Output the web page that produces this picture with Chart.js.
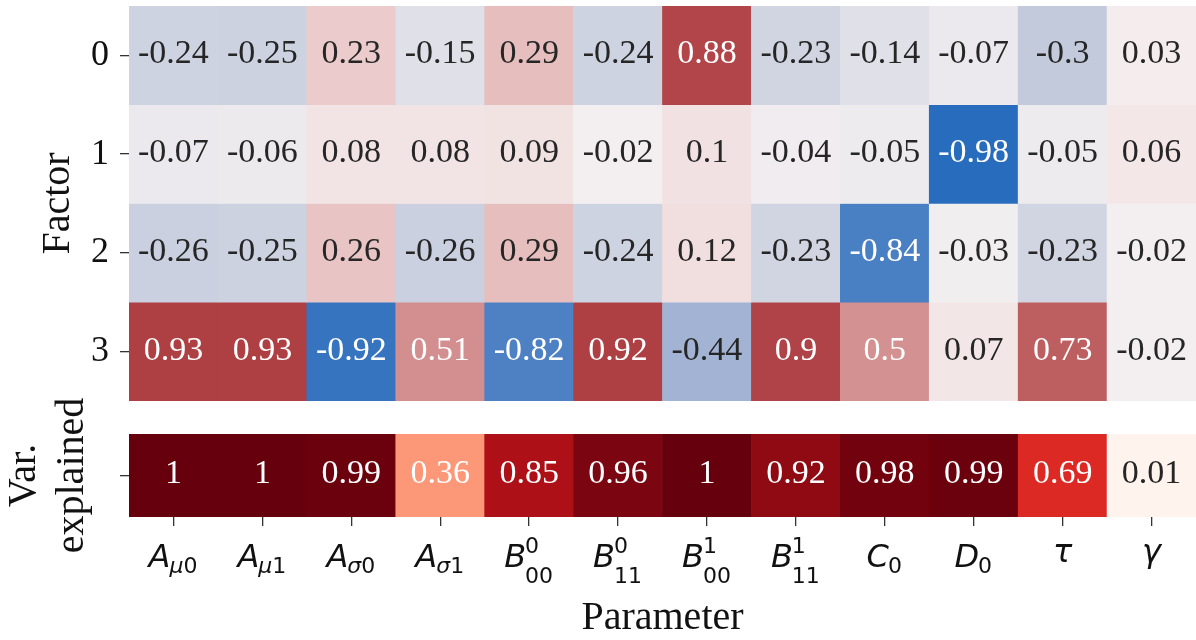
<!DOCTYPE html>
<html lang="en">
<head>
<meta charset="UTF-8">
<title>Factor loadings</title>
<script src="https://cdn.jsdelivr.net/npm/chart.js"></script>
<style>
  body { margin: 0; background: #fff; }
  #wrap { position: relative; width: 1196px; height: 640px; }
  .box { position: absolute; left: 0; width: 1196px; }
  #topBox { top: 0; height: 405px; }
  #botBox { top: 380px; height: 260px; }
</style>
</head>
<body>
<div id="wrap">
  <div class="box" id="topBox"><canvas id="factorChart"></canvas></div>
  <div class="box" id="botBox"><canvas id="varChart"></canvas></div>
</div>

<script>
// parameters (x categories), drawn as base + subscript + superscript
const params = ['A_mu0', 'A_mu1', 'A_sigma0', 'A_sigma1', 'B00^0', 'B11^0', 'B00^1', 'B11^1', 'C0', 'D0', 'tau', 'gamma'];
const paramBase = ['A', 'A', 'A', 'A', 'B', 'B', 'B', 'B', 'C', 'D', 'τ', 'γ'];
const paramSub = ['μ0', 'μ1', 'σ0', 'σ1', '00', '11', '00', '11', '0', '0', '', ''];
const paramSup = ['', '', '', '', '0', '0', '1', '1', '', '', '', ''];

const factorRows = ['0', '1', '2', '3'];
const factor0 = [-0.24, -0.25, 0.23, -0.15, 0.29, -0.24, 0.88, -0.23, -0.14, -0.07, -0.3, 0.03];
const factor1 = [-0.07, -0.06, 0.08, 0.08, 0.09, -0.02, 0.1, -0.04, -0.05, -0.98, -0.05, 0.06];
const factor2 = [-0.26, -0.25, 0.26, -0.26, 0.29, -0.24, 0.12, -0.23, -0.84, -0.03, -0.23, -0.02];
const factor3 = [0.93, 0.93, -0.92, 0.51, -0.82, 0.92, -0.44, 0.9, 0.5, 0.07, 0.73, -0.02];
const varExplained = [1, 1, 0.99, 0.36, 0.85, 0.96, 1, 0.92, 0.98, 0.99, 0.69, 0.01];

const factors = [factor0, factor1, factor2, factor3];

const SERIF = "'Liberation Serif', 'Times New Roman', serif";
const MATH = "'DejaVu Sans', sans-serif";

// colormaps: vlag-like (-1..1) and matplotlib Reds (0..1)
const vlagStops = [
  [-1.0, [35, 105, 189]], [-0.8, [82, 132, 196]], [-0.6, [126, 156, 205]],
  [-0.4, [172, 185, 212]], [-0.2, [215, 218, 228]], [0.0, [246, 241, 242]],
  [0.2, [237, 209, 209]], [0.4, [221, 166, 166]], [0.6, [203, 123, 124]],
  [0.8, [182, 78, 82]], [1.0, [169, 55, 59]]
];
const redsStops = [
  [0, [255, 245, 240]], [0.125, [254, 224, 210]], [0.25, [252, 187, 161]],
  [0.375, [252, 146, 114]], [0.5, [251, 106, 74]], [0.625, [239, 59, 44]],
  [0.75, [203, 24, 29]], [0.875, [165, 15, 21]], [1, [103, 0, 13]]
];

function lerpColor(stops, v) {
  if (v <= stops[0][0]) return stops[0][1];
  for (let i = 1; i < stops.length; i++) {
    if (v <= stops[i][0]) {
      const [a, ca] = stops[i - 1], [b, cb] = stops[i];
      const t = (v - a) / (b - a);
      return ca.map((c, k) => Math.round(c + (cb[k] - c) * t));
    }
  }
  return stops[stops.length - 1][1];
}

function luminance(rgb) {
  const lin = rgb.map(c => {
    c /= 255;
    return c <= 0.03928 ? c / 12.92 : Math.pow((c + 0.055) / 1.055, 2.4);
  });
  return 0.2126 * lin[0] + 0.7152 * lin[1] + 0.0722 * lin[2];
}

const rgbStr = c => `rgb(${c[0]},${c[1]},${c[2]})`;

// writes the value in the middle of every cell
function annotatePlugin(stops, threshold) {
  return {
    id: 'annotate',
    afterDatasetsDraw(chart) {
      const ctx = chart.ctx;
      ctx.save();
      ctx.font = `34px ${SERIF}`;
      ctx.textAlign = 'center';
      ctx.textBaseline = 'middle';
      chart.data.datasets.forEach((ds, di) => {
        const meta = chart.getDatasetMeta(di);
        meta.data.forEach((el, i) => {
          const v = ds.values[i];
          const lum = luminance(lerpColor(stops, v));
          ctx.fillStyle = lum > threshold ? '#262626' : '#ffffff';
          ctx.fillText(String(v), el.x, (el.y + el.base) / 2 - 1);
        });
      });
      ctx.restore();
    }
  };
}

// x tick labels with sub/superscripts, like mathtext
const mathLabels = {
  id: 'mathLabels',
  afterDraw(chart) {
    const ctx = chart.ctx;
    const xs = chart.scales.x;
    const baseY = xs.top + 50;
    ctx.save();
    ctx.fillStyle = '#111';
    ctx.textBaseline = 'alphabetic';
    ctx.textAlign = 'left';
    params.forEach((p, i) => {
      const cx = xs.getPixelForTick(i);
      const base = paramBase[i], sub = paramSub[i], sup = paramSup[i];
      const bigFont = `italic 32px ${MATH}`;
      const small = ch => (/[0-9]/.test(ch) ? '' : 'italic ') + `22px ${MATH}`;
      ctx.font = bigFont;
      const wb = ctx.measureText(base).width;
      const widthOf = s => [...s].reduce((w, ch) => { ctx.font = small(ch); return w + ctx.measureText(ch).width; }, 0);
      const ws = widthOf(sub), wp = widthOf(sup);
      const total = wb + Math.max(ws, wp);
      let x = cx - total / 2;
      let y = baseY;
      if (!sub && !sup) y -= 5;
      ctx.font = bigFont;
      ctx.fillText(base, x, y);
      x += wb - 1;
      const drawSmall = (s, yy) => {
        let xx = x;
        [...s].forEach(ch => {
          ctx.font = small(ch);
          ctx.fillText(ch, xx, yy);
          xx += ctx.measureText(ch).width;
        });
      };
      if (sup) drawSmall(sup, y - 14);
      if (sub) drawSmall(sub, y + (sup ? 16 : 6));
    });
    ctx.restore();
  }
};

const tickGrid = { offset: false, drawOnChartArea: false, drawTicks: true, tickLength: 9, color: '#333', lineWidth: 1.3 };

function fixWidth(s) {
  s.width = 129;
  s.paddingTop = 0;
  s.paddingBottom = 0;
}

// factor loadings heatmap
new Chart(document.getElementById('factorChart'), {
  type: 'bar',
  data: {
    labels: params,
    datasets: factors.map((row, r) => ({
      label: 'Factor ' + factorRows[r],
      values: row,
      data: row.map(() => [r - 0.5, r + 0.5]),
      backgroundColor: row.map(v => rgbStr(lerpColor(vlagStops, v))),
      borderWidth: 0,
      borderSkipped: false,
      grouped: false,
      barPercentage: 1,
      categoryPercentage: 1
    }))
  },
  options: {
    responsive: true,
    maintainAspectRatio: false,
    animation: false,
    events: [],
    layout: { padding: { top: 6, right: 0, bottom: 4, left: 0 } },
    plugins: { legend: { display: false }, tooltip: { enabled: false } },
    scales: {
      x: { type: 'category', display: false },
      y: {
        type: 'linear',
        reverse: true,
        min: -0.5,
        max: 3.5,
        afterBuildTicks: s => { s.ticks = factorRows.map((_, i) => ({ value: i })); },
        afterFit: fixWidth,
        ticks: {
          font: { family: SERIF, size: 36 },
          color: '#111',
          padding: 11,
          callback: v => factorRows[v]
        },
        grid: tickGrid,
        border: { display: false },
        title: {
          display: true,
          text: 'Factor',
          color: '#111',
          font: { family: SERIF, size: 40, lineHeight: 1.2 },
          padding: { top: 34, bottom: 0 }
        }
      }
    }
  },
  plugins: [annotatePlugin(vlagStops, 0.408)]
});

// variance explained row
new Chart(document.getElementById('varChart'), {
  type: 'bar',
  data: {
    labels: params,
    datasets: [{
      label: 'Var. explained',
      values: varExplained,
      data: varExplained.map(() => [-0.5, 0.5]),
      backgroundColor: varExplained.map(v => rgbStr(lerpColor(redsStops, v))),
      borderWidth: 0,
      borderSkipped: false,
      barPercentage: 1,
      categoryPercentage: 1
    }]
  },
  options: {
    responsive: true,
    maintainAspectRatio: false,
    animation: false,
    events: [],
    layout: { padding: { top: 54, right: 0, bottom: 0, left: 0 } },
    plugins: { legend: { display: false }, tooltip: { enabled: false } },
    scales: {
      x: {
        type: 'category',
        afterFit: s => { s.height = 123; },
        ticks: { autoSkip: false, maxRotation: 0, callback: () => '' },
        grid: tickGrid,
        border: { display: false },
        title: {
          display: true,
          text: 'Parameter',
          color: '#111',
          font: { family: SERIF, size: 40, lineHeight: 1.1 },
          padding: { top: 0, bottom: 0 }
        }
      },
      y: {
        type: 'linear',
        min: -0.5,
        max: 0.5,
        afterBuildTicks: s => { s.ticks = [{ value: 0 }]; },
        afterFit: fixWidth,
        ticks: { callback: () => '' },
        grid: tickGrid,
        border: { display: false },
        title: {
          display: true,
          text: ['Var.', 'explained'],
          color: '#111',
          font: { family: SERIF, size: 40, lineHeight: 1.2 },
          padding: { top: 0, bottom: 0 }
        }
      }
    }
  },
  plugins: [annotatePlugin(redsStops, 0.5), mathLabels]
});
</script>
</body>
</html>
